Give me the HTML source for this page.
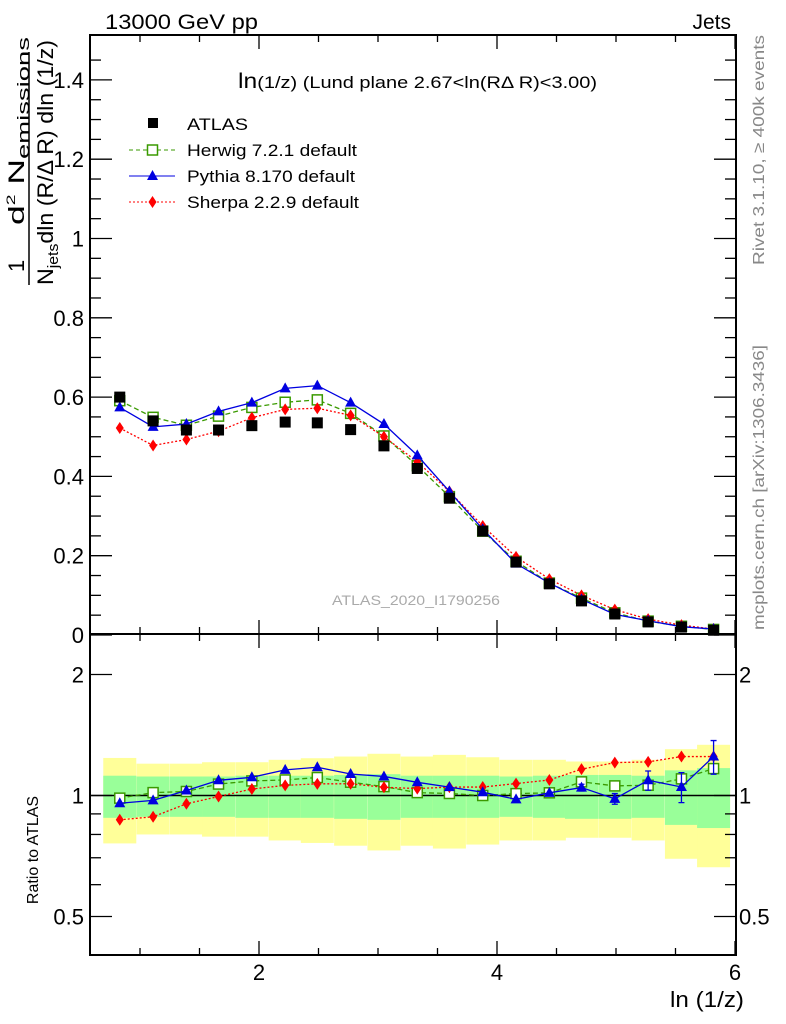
<!DOCTYPE html>
<html><head><meta charset="utf-8"><style>
body{margin:0;background:#fff}
svg{display:block;font-family:"Liberation Sans",sans-serif}
</style></head><body>
<svg id="c" width="786" height="1024" viewBox="0 0 786 1024" xmlns="http://www.w3.org/2000/svg">
<text x="105" y="29" font-size="21" textLength="153" lengthAdjust="spacingAndGlyphs">13000 GeV pp</text>
<text x="731" y="29" font-size="21" text-anchor="end">Jets</text>
<text x="238" y="88" font-size="17" textLength="359" lengthAdjust="spacingAndGlyphs"><tspan font-size="21">ln</tspan>(1/z)  (Lund plane 2.67&lt;ln(RΔ R)&lt;3.00)</text>
<text x="332" y="605" font-size="14" fill="#aaa" textLength="168" lengthAdjust="spacingAndGlyphs">ATLAS_2020_I1790256</text>
<text transform="translate(764,265) rotate(-90)" font-size="16" fill="#888" textLength="230" lengthAdjust="spacingAndGlyphs">Rivet 3.1.10, ≥ 400k events</text>
<text transform="translate(764,630) rotate(-90)" font-size="16" fill="#888" textLength="285" lengthAdjust="spacingAndGlyphs">mcplots.cern.ch [arXiv:1306.3436]</text>
<g font-size="22">
<text transform="translate(24,272) rotate(-90)">1</text>
<line x1="29" y1="52" x2="29" y2="285" stroke="#000" stroke-width="1.5"/>
<text transform="translate(24,225) rotate(-90)" textLength="188" lengthAdjust="spacingAndGlyphs">d<tspan font-size="12" dy="-9">2</tspan><tspan dy="9"> N</tspan><tspan font-size="17" dy="5">emissions</tspan></text>
<text transform="translate(53,285) rotate(-90)" textLength="245" lengthAdjust="spacingAndGlyphs">N<tspan font-size="15" dy="5">jets</tspan><tspan dy="-5">dln (R/Δ R) dln (1/z)</tspan></text>
</g>
<text transform="translate(38,850) rotate(-90)" font-size="16" text-anchor="middle">Ratio to ATLAS</text>
<text x="744" y="1007" font-size="22" text-anchor="end" textLength="74" lengthAdjust="spacingAndGlyphs">ln (1/z)</text>
<g id="bands"></g><g id="plot"></g><g id="axes"></g>
<g font-size="17">
<g><rect x="148" y="118" width="10" height="10"/><text x="187" y="130" textLength="61" lengthAdjust="spacingAndGlyphs">ATLAS</text></g>
<g><line x1="129" y1="150" x2="175" y2="150" stroke="#3a9a00" stroke-dasharray="4,3"/><rect x="147.5" y="145" width="10" height="10" fill="#fff" stroke="#3a9a00" stroke-width="1.5"/><text x="187" y="156" textLength="170" lengthAdjust="spacingAndGlyphs">Herwig 7.2.1 default</text></g>
<g><line x1="129" y1="176" x2="175" y2="176" stroke="#0000e0"/><polygon points="152.5,170 158,180 147,180" fill="#0000e0"/><text x="187" y="182" textLength="168" lengthAdjust="spacingAndGlyphs">Pythia 8.170 default</text></g>
<g><line x1="129" y1="202" x2="175" y2="202" stroke="#f00" stroke-dasharray="2,2"/><polygon points="152.5,196 156.5,202 152.5,208 148.5,202" fill="#f00"/><text x="187" y="208" textLength="172" lengthAdjust="spacingAndGlyphs">Sherpa 2.2.9 default</text></g>
</g>
</svg>
<script>
const xCenters=[0.83,1.11,1.39,1.66,1.94,2.22,2.49,2.77,3.05,3.33,3.60,3.88,4.16,4.44,4.71,4.99,5.27,5.55,5.82];
const atlas=[0.600,0.540,0.517,0.517,0.528,0.537,0.535,0.518,0.477,0.420,0.345,0.262,0.184,0.129,0.086,0.053,0.033,0.020,0.012];
const herwig=[0.591,0.549,0.529,0.552,0.574,0.587,0.593,0.559,0.502,0.427,0.349,0.262,0.186,0.131,0.093,0.056,0.035,0.022,0.014];
const pythia=[0.574,0.525,0.532,0.564,0.586,0.622,0.629,0.586,0.532,0.453,0.362,0.267,0.180,0.131,0.090,0.052,0.036,0.021,0.015];
const sherpa=[0.522,0.478,0.493,0.514,0.548,0.569,0.572,0.554,0.500,0.437,0.362,0.275,0.197,0.141,0.100,0.064,0.040,0.025,0.015];
const errYellow=[0.24,0.20,0.20,0.21,0.21,0.227,0.238,0.25,0.27,0.25,0.262,0.245,0.227,0.227,0.215,0.215,0.227,0.304,0.337];
const errGreen=[0.12,0.115,0.115,0.115,0.12,0.12,0.12,0.125,0.13,0.12,0.12,0.12,0.115,0.12,0.125,0.125,0.12,0.155,0.17];
const pythiaRatioErr=[0,0,0,0,0,0,0,0,0,0,0,0,0,0,0.02,0.03,0.06,0.09,0.12];
const herwigRatioErr=[0,0,0,0,0,0,0,0,0,0,0,0,0,0,0,0.02,0.02,0.03,0.03];
const yTicksMain=[0,0.2,0.4,0.6,0.8,1,1.2,1.4];
const yTickLabelsMain=["0","0.2","0.4","0.6","0.8","1","1.2","1.4"];
const xTicks=[2,4,6];
const ratioTicks=[0.5,1,2];
const ratioTickLabels=["0.5","1","2"];

const NS="http://www.w3.org/2000/svg";
const L=90,R=736,T=35,MB=634,RB=955;
const X=v=>21+119*v;
const Y=v=>635-396.5*v;
const YR=r=>795.5-121*Math.log2(r);
const binW=0.2775;
function mk(tag,attrs,parent){const e=document.createElementNS(NS,tag);for(const k in attrs)e.setAttribute(k,attrs[k]);parent.appendChild(e);return e;}
const bands=document.getElementById('bands'),plot=document.getElementById('plot'),axes=document.getElementById('axes');

xCenters.forEach((x,i)=>{
  const x0=X(x-binW/2),x1=X(x+binW/2);
  const y=mk('rect',{x:x0,y:YR(1+errYellow[i]),width:x1-x0,height:YR(1-errYellow[i])-YR(1+errYellow[i]),fill:'#ffff99'},bands);
  
  
  const g=mk('rect',{x:x0,y:YR(1+errGreen[i]),width:x1-x0,height:YR(1-errGreen[i])-YR(1+errGreen[i]),fill:'#99ff99'},bands);
  
  
});
const one=mk('line',{x1:L,x2:R,y1:YR(1),y2:YR(1),stroke:'#000','stroke-width':1.5},bands);



function marker(type,x,y,color,name){
  let e;
  if(type==='sq'){e=mk('rect',{x:x-5,y:y-5,width:10,height:10,fill:'#fff',stroke:color,'stroke-width':1.5},plot);}
  else if(type==='tri'){e=mk('polygon',{points:`${x},${y-6} ${x+5.5},${y+4} ${x-5.5},${y+4}`,fill:color},plot);}
  else if(type==='dia'){e=mk('polygon',{points:`${x},${y-6} ${x+4},${y} ${x},${y+6} ${x-4},${y}`,fill:color},plot);}
  else {e=mk('rect',{x:x-5.5,y:y-5.5,width:11,height:11,fill:color},plot);}
  
  
}
function series(vals,color,dash,type,name,ratio,errs){
  const pts=xCenters.map((x,i)=>[X(x),ratio?YR(vals[i]/atlas[i]):Y(vals[i])]);
  const l=mk('polyline',{points:pts.map(p=>p.join(',')).join(' '),fill:'none',stroke:color,'stroke-width':1.3,'stroke-dasharray':dash},plot);
  
  
  if(errs)pts.forEach((p,i)=>{if(errs[i]>0){const r=vals[i]/atlas[i];
    const eb=mk('path',{d:`M${p[0]},${YR(r+errs[i])}V${YR(r-errs[i])}M${p[0]-3},${YR(r+errs[i])}h6M${p[0]-3},${YR(r-errs[i])}h6`,stroke:color,'stroke-width':1.3,fill:'none'},plot);
    
    }});
  pts.forEach(p=>marker(type,p[0],p[1],color,name+'-point'));
}
series(herwig,'#3a9a00','5,3','sq','herwig',false);
series(sherpa,'#ff0000','2,2','dia','sherpa',false);
series(pythia,'#0000e0','','tri','pythia',false);
xCenters.forEach((x,i)=>marker('atlas',X(x),Y(atlas[i]),'#000','atlas-point'));
series(herwig,'#3a9a00','5,3','sq','herwig-ratio',true,herwigRatioErr);
series(sherpa,'#ff0000','2,2','dia','sherpa-ratio',true);
series(pythia,'#0000e0','','tri','pythia-ratio',true,pythiaRatioErr);

[[T,MB],[MB,RB]].forEach(([t,b],k)=>{
  const f=mk('rect',{x:L,y:t,width:R-L,height:b-t,fill:'none',stroke:'#000','stroke-width':2},axes);
  
  
  for(let v=1;v<=6.01;v+=0.5){const px=X(v);if(px<L||px>R)continue;const maj=Math.abs(v-Math.round(v/2)*2)<1e-6;const len=maj?14:7;
    mk('line',{x1:px,x2:px,y1:b,y2:b-len,stroke:'#000','stroke-width':1.3},axes);
    mk('line',{x1:px,x2:px,y1:t,y2:t+len,stroke:'#000','stroke-width':1.3},axes);}
});
for(let v=0;v<=1.5;v+=0.05){const py=Y(v);if(py<T)continue;const maj=Math.abs(v*5-Math.round(v*5))<1e-6;const len=maj?22:11;
  mk('line',{x1:L,x2:L+len,y1:py,y2:py,stroke:'#000','stroke-width':1.3},axes);
  mk('line',{x1:R,x2:R-len,y1:py,y2:py,stroke:'#000','stroke-width':1.3},axes);}
yTicksMain.forEach((v,i)=>{const t=mk('text',{x:L-6,y:Y(v)+8,'font-size':22,'text-anchor':'end'},axes);t.textContent=yTickLabelsMain[i];
  
  });
[0.5,0.6,0.7,0.8,0.9,1,2].forEach(v=>{const py=YR(v);const maj=ratioTicks.includes(v);const len=maj?22:11;
  mk('line',{x1:L,x2:L+len,y1:py,y2:py,stroke:'#000','stroke-width':1.3},axes);
  mk('line',{x1:R,x2:R-len,y1:py,y2:py,stroke:'#000','stroke-width':1.3},axes);});
ratioTicks.forEach((v,i)=>{
  const t=mk('text',{x:L-6,y:YR(v)+8,'font-size':22,'text-anchor':'end'},axes);t.textContent=ratioTickLabels[i];
  
  
  const t2=mk('text',{x:R+3,y:YR(v)+8,'font-size':22},axes);t2.textContent=ratioTickLabels[i];
  
  });
xTicks.forEach(v=>{const t=mk('text',{x:X(v),y:980,'font-size':22,'text-anchor':'middle'},axes);t.textContent=v;
  
  });
</script>
</body></html>
